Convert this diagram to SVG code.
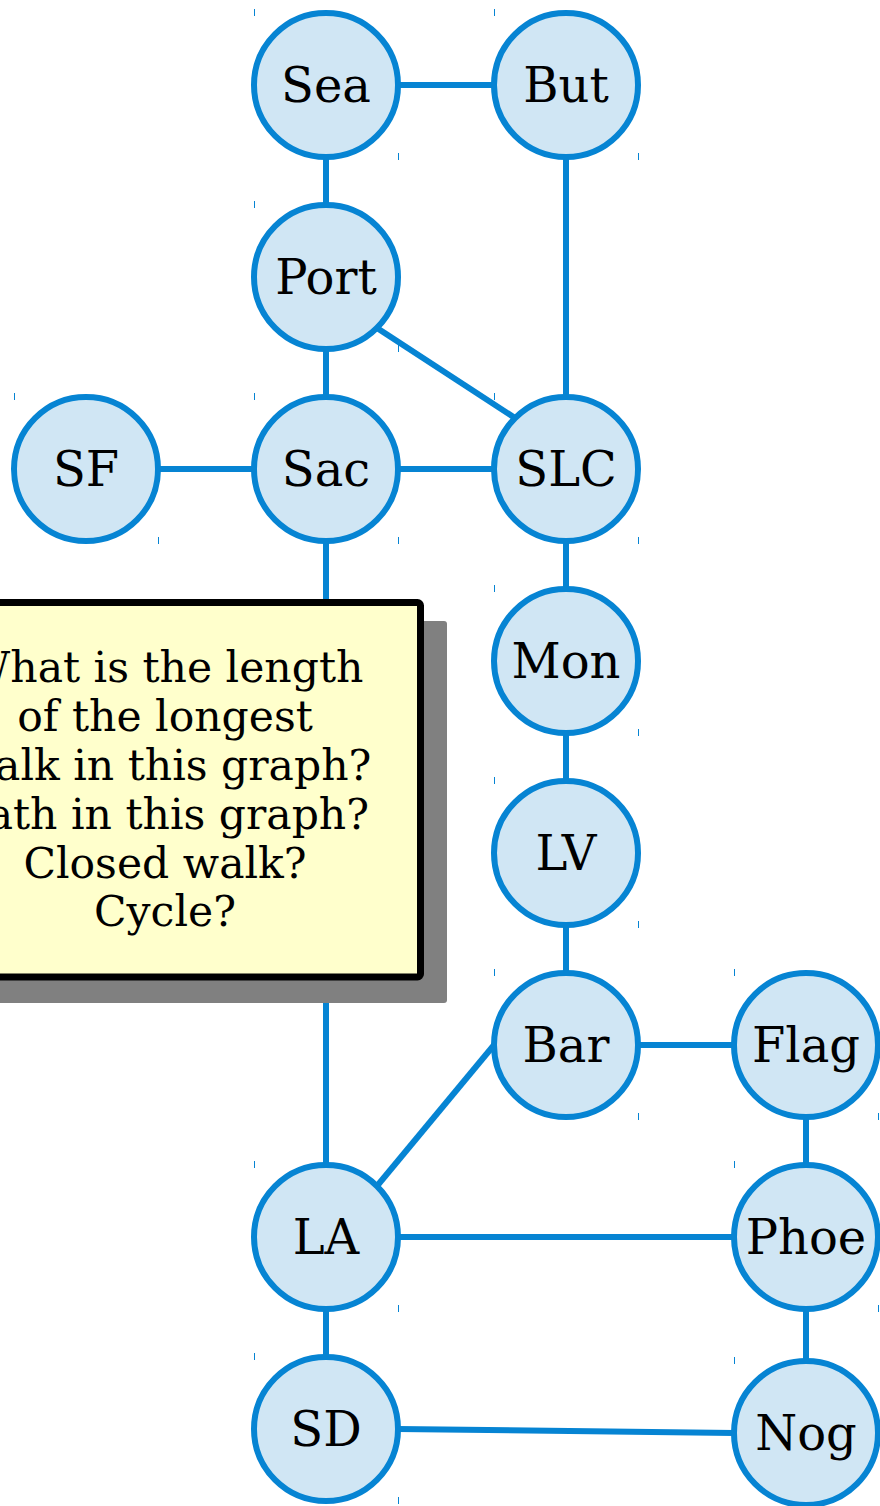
<svg xmlns="http://www.w3.org/2000/svg" width="880" height="1506" viewBox="0 0 880 1506">
<style>
.edge{stroke:#0684d3;stroke-width:6;fill:none}
.node circle{fill:#d0e6f4;stroke:#0684d3;stroke-width:6}
.node text{font-family:"DejaVu Serif",serif;font-size:48px;text-anchor:middle;fill:#000}
.tick{stroke:#0684d3;stroke-width:1}
.note text{font-family:"DejaVu Serif",serif;font-size:42.5px;text-anchor:middle;fill:#000}
</style>
<rect width="880" height="1506" fill="#fff"/>
<g id="connectors">
<line class="edge" x1="398" y1="85" x2="494" y2="85"/>
<line class="edge" x1="326" y1="157" x2="326" y2="205"/>
<line class="edge" x1="566" y1="157" x2="566" y2="397"/>
<line class="edge" x1="326" y1="349" x2="326" y2="397"/>
<line class="edge" x1="377" y1="328" x2="515" y2="418"/>
<line class="edge" x1="158" y1="469" x2="254" y2="469"/>
<line class="edge" x1="398" y1="469" x2="494" y2="469"/>
<line class="edge" x1="326" y1="541" x2="326" y2="1165"/>
<line class="edge" x1="566" y1="541" x2="566" y2="589"/>
<line class="edge" x1="566" y1="733" x2="566" y2="781"/>
<line class="edge" x1="566" y1="925" x2="566" y2="973"/>
<line class="edge" x1="638" y1="1045" x2="734" y2="1045"/>
<line class="edge" x1="377" y1="1186" x2="494" y2="1045"/>
<line class="edge" x1="806" y1="1117" x2="806" y2="1165"/>
<line class="edge" x1="398" y1="1237" x2="734" y2="1237"/>
<line class="edge" x1="326" y1="1309" x2="326" y2="1357"/>
<line class="edge" x1="806" y1="1309" x2="806" y2="1361"/>
<line class="edge" x1="398" y1="1429" x2="734" y2="1433"/>
</g>
<g id="note" class="note">
<rect x="-70" y="621" width="517" height="382" rx="3" fill="#808080"/>
<rect x="-92" y="602.5" width="512.5" height="374.5" rx="3" fill="#ffffcc" stroke="#000" stroke-width="7"/>
<text x="165" y="682">What is the length</text>
<text x="165" y="731">of the longest</text>
<text x="165" y="780">walk in this graph?</text>
<text x="165" y="829">Path in this graph?</text>
<text x="165" y="878">Closed walk?</text>
<text x="165" y="926">Cycle?</text>
</g>
<g id="Sea" class="node"><circle cx="326" cy="85" r="72"/><text x="326" y="102">Sea</text><line class="tick" x1="254.5" y1="9" x2="254.5" y2="16"/><line class="tick" x1="398.5" y1="153" x2="398.5" y2="160"/></g>
<g id="But" class="node"><circle cx="566" cy="85" r="72"/><text x="566" y="102">But</text><line class="tick" x1="494.5" y1="9" x2="494.5" y2="16"/><line class="tick" x1="638.5" y1="153" x2="638.5" y2="160"/></g>
<g id="Port" class="node"><circle cx="326" cy="277" r="72"/><text x="326" y="294">Port</text><line class="tick" x1="254.5" y1="201" x2="254.5" y2="208"/><line class="tick" x1="398.5" y1="345" x2="398.5" y2="352"/></g>
<g id="SF" class="node"><circle cx="86" cy="469" r="72"/><text x="86" y="486">SF</text><line class="tick" x1="14.5" y1="393" x2="14.5" y2="400"/><line class="tick" x1="158.5" y1="537" x2="158.5" y2="544"/></g>
<g id="Sac" class="node"><circle cx="326" cy="469" r="72"/><text x="326" y="486">Sac</text><line class="tick" x1="254.5" y1="393" x2="254.5" y2="400"/><line class="tick" x1="398.5" y1="537" x2="398.5" y2="544"/></g>
<g id="SLC" class="node"><circle cx="566" cy="469" r="72"/><text x="566" y="486">SLC</text><line class="tick" x1="494.5" y1="393" x2="494.5" y2="400"/><line class="tick" x1="638.5" y1="537" x2="638.5" y2="544"/></g>
<g id="Mon" class="node"><circle cx="566" cy="661" r="72"/><text x="566" y="678">Mon</text><line class="tick" x1="494.5" y1="585" x2="494.5" y2="592"/><line class="tick" x1="638.5" y1="729" x2="638.5" y2="736"/></g>
<g id="LV" class="node"><circle cx="566" cy="853" r="72"/><text x="566" y="870">LV</text><line class="tick" x1="494.5" y1="777" x2="494.5" y2="784"/><line class="tick" x1="638.5" y1="921" x2="638.5" y2="928"/></g>
<g id="Bar" class="node"><circle cx="566" cy="1045" r="72"/><text x="566" y="1062">Bar</text><line class="tick" x1="494.5" y1="969" x2="494.5" y2="976"/><line class="tick" x1="638.5" y1="1113" x2="638.5" y2="1120"/></g>
<g id="Flag" class="node"><circle cx="806" cy="1045" r="72"/><text x="806" y="1062">Flag</text><line class="tick" x1="734.5" y1="969" x2="734.5" y2="976"/><line class="tick" x1="878.5" y1="1113" x2="878.5" y2="1120"/></g>
<g id="LA" class="node"><circle cx="326" cy="1237" r="72"/><text x="326" y="1254">LA</text><line class="tick" x1="254.5" y1="1161" x2="254.5" y2="1168"/><line class="tick" x1="398.5" y1="1305" x2="398.5" y2="1312"/></g>
<g id="Phoe" class="node"><circle cx="806" cy="1237" r="72"/><text x="806" y="1254">Phoe</text><line class="tick" x1="734.5" y1="1161" x2="734.5" y2="1168"/><line class="tick" x1="878.5" y1="1305" x2="878.5" y2="1312"/></g>
<g id="SD" class="node"><circle cx="326" cy="1429" r="72"/><text x="326" y="1446">SD</text><line class="tick" x1="254.5" y1="1353" x2="254.5" y2="1360"/><line class="tick" x1="398.5" y1="1497" x2="398.5" y2="1504"/></g>
<g id="Nog" class="node"><circle cx="806" cy="1433" r="72"/><text x="806" y="1450">Nog</text><line class="tick" x1="734.5" y1="1357" x2="734.5" y2="1364"/></g>
</svg>
